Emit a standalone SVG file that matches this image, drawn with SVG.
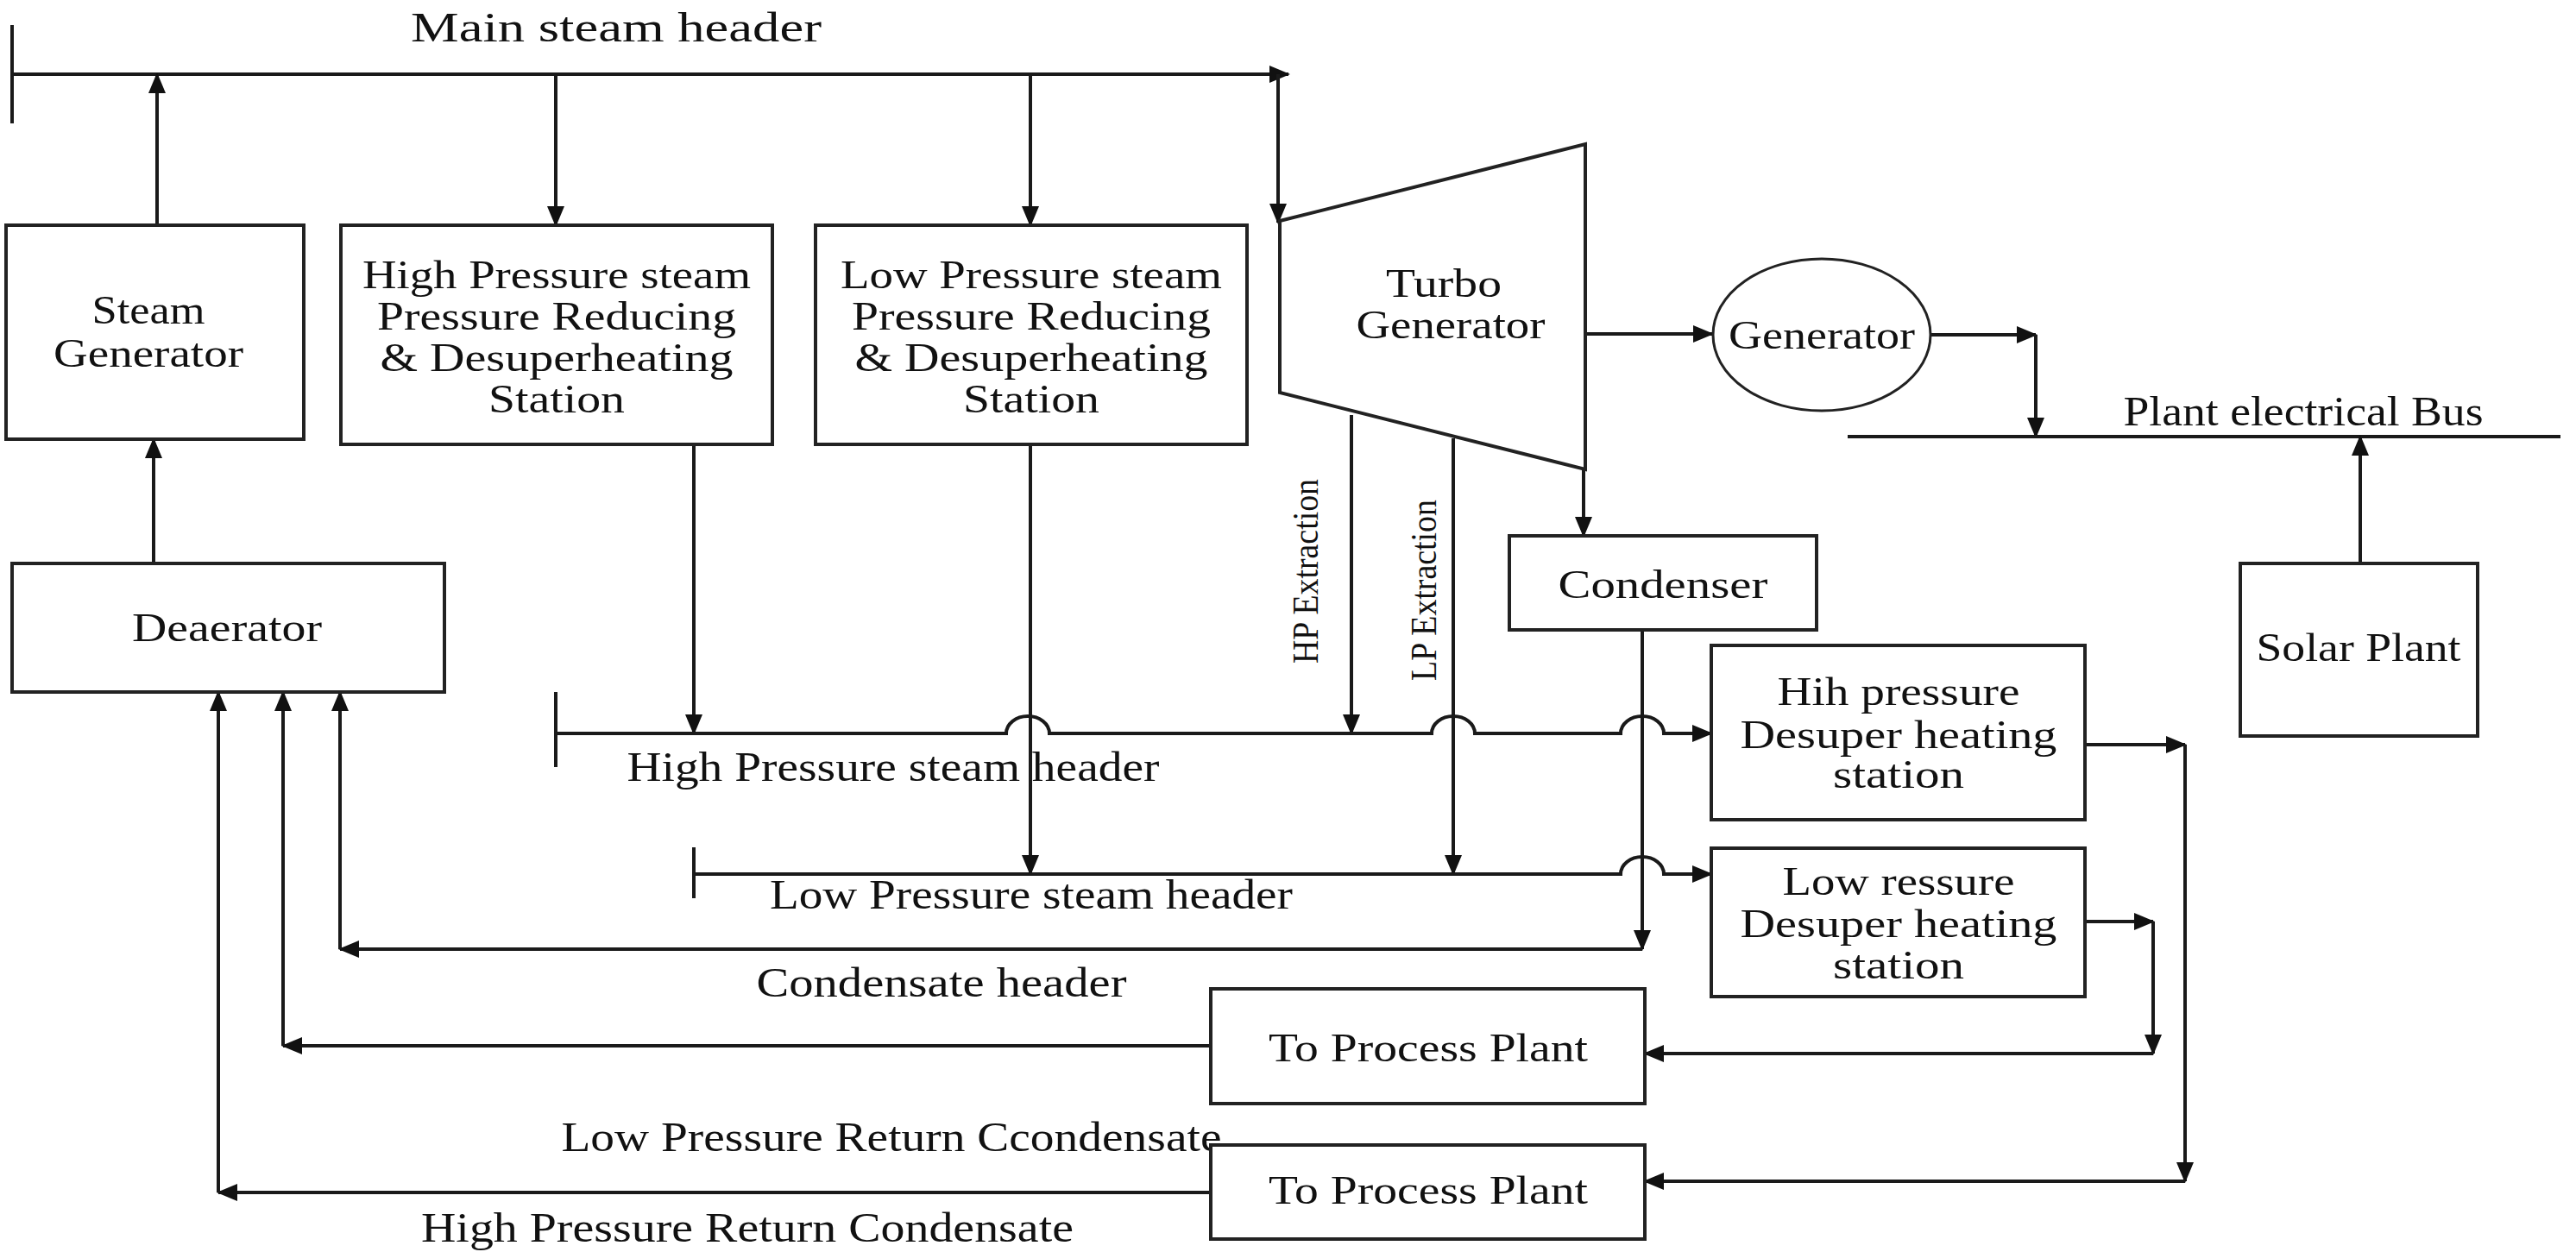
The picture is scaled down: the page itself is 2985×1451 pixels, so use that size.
<svg xmlns="http://www.w3.org/2000/svg" width="2985" height="1451" viewBox="0 0 2985 1451">
<style>
.b{fill:#fff;stroke:#222;stroke-width:4}
.l{fill:none;stroke:#1a1a1a;stroke-width:4}
.la{fill:none;stroke:#1a1a1a;stroke-width:4;marker-end:url(#a)}
text{font-family:"Liberation Serif","Times New Roman",serif;font-size:46px;fill:#111;text-anchor:middle}
.h{font-size:48px}
</style>
<defs>
<marker id="a" markerUnits="userSpaceOnUse" markerWidth="24" markerHeight="20" refX="22" refY="10" orient="auto"><path d="M0,0 L24,10 L0,20 Z" fill="#111"/></marker>
</defs>
<g id="connectors">
<path class="l" d="M14,29 V143"/>
<path class="la" d="M14,86 H1493"/>
<path class="la" d="M1481,86 V258"/>
<path class="la" d="M182,261 V86"/>
<path class="la" d="M644,86 V261"/>
<path class="la" d="M1194,86 V261"/>
<path class="la" d="M178,653 V509"/>
<path class="la" d="M1837,387 H1984"/>
<path class="la" d="M2237,388 H2359"/>
<path class="la" d="M2359,388 V506"/>
<path class="l" d="M2141,506 H2967"/>
<path class="la" d="M2735,653 V506"/>
<path class="la" d="M1835,544 V621"/>
<path class="la" d="M1566,481 V850"/>
<path class="la" d="M1684,508 V1013"/>
<path class="l" d="M644,802 V889"/>
<path class="la" d="M804,515 V850"/>
<path class="la" d="M644,850 H1166 A25 20 0 0 1 1216,850 H1659 A25 20 0 0 1 1709,850 H1878 A25 20 0 0 1 1928,850 H1983"/>
<path class="l" d="M804,982 V1041"/>
<path class="la" d="M1194,515 V1013"/>
<path class="la" d="M804,1013 H1878 A25 20 0 0 1 1928,1013 H1983"/>
<path class="la" d="M1903,730 V1100"/>
<path class="la" d="M1903,1100 H394"/>
<path class="la" d="M394,1100 V802"/>
<path class="la" d="M2416,863 H2532"/>
<path class="la" d="M2532,863 V1369"/>
<path class="la" d="M2532,1369 H1906"/>
<path class="la" d="M2416,1068 H2495"/>
<path class="la" d="M2495,1068 V1221"/>
<path class="la" d="M2495,1221 H1906"/>
<path class="la" d="M1403,1212 H328"/>
<path class="la" d="M328,1212 V802"/>
<path class="la" d="M1403,1382 H253"/>
<path class="la" d="M253,1382 V802"/>
</g>
<g id="labels">
<text class="h" x="714" y="48" textLength="476" lengthAdjust="spacingAndGlyphs">Main steam header</text>
<text class="h" x="2669" y="493" textLength="417" lengthAdjust="spacingAndGlyphs">Plant electrical Bus</text>
<text class="h" x="1035" y="905" textLength="617" lengthAdjust="spacingAndGlyphs">High Pressure steam header</text>
<text class="h" x="1195" y="1053" textLength="606" lengthAdjust="spacingAndGlyphs">Low Pressure steam header</text>
<text class="h" x="1091" y="1155" textLength="429" lengthAdjust="spacingAndGlyphs">Condensate header</text>
<text class="h" x="1033" y="1334" textLength="765" lengthAdjust="spacingAndGlyphs">Low Pressure Return Ccondensate</text>
<text class="h" x="866" y="1439" textLength="756" lengthAdjust="spacingAndGlyphs">High Pressure Return Condensate</text>
<text x="0" y="0" transform="translate(1527,662) rotate(-90)" style="font-size:42px" textLength="214" lengthAdjust="spacingAndGlyphs">HP Extraction</text>
<text x="0" y="0" transform="translate(1664,684) rotate(-90)" style="font-size:42px" textLength="210" lengthAdjust="spacingAndGlyphs">LP Extraction</text>
</g>
<g id="steam-generator"><rect class="b" x="7" y="261" width="345" height="248"/>
<text x="172" y="375" textLength="131" lengthAdjust="spacingAndGlyphs">Steam</text>
<text x="172" y="425" textLength="220" lengthAdjust="spacingAndGlyphs">Generator</text></g>
<g id="hp-prds"><rect class="b" x="395" y="261" width="500" height="254"/>
<text x="645" y="334" textLength="450" lengthAdjust="spacingAndGlyphs">High Pressure steam</text>
<text x="645" y="382" textLength="416" lengthAdjust="spacingAndGlyphs">Pressure Reducing</text>
<text x="645" y="430" textLength="409" lengthAdjust="spacingAndGlyphs">&amp; Desuperheating</text>
<text x="645" y="478" textLength="158" lengthAdjust="spacingAndGlyphs">Station</text></g>
<g id="lp-prds"><rect class="b" x="945" y="261" width="500" height="254"/>
<text x="1195" y="334" textLength="442" lengthAdjust="spacingAndGlyphs">Low Pressure steam</text>
<text x="1195" y="382" textLength="416" lengthAdjust="spacingAndGlyphs">Pressure Reducing</text>
<text x="1195" y="430" textLength="409" lengthAdjust="spacingAndGlyphs">&amp; Desuperheating</text>
<text x="1195" y="478" textLength="158" lengthAdjust="spacingAndGlyphs">Station</text></g>
<g id="deaerator"><rect class="b" x="14" y="653" width="501" height="149"/>
<text x="263" y="743" textLength="220" lengthAdjust="spacingAndGlyphs">Deaerator</text></g>
<g id="turbo-generator"><path class="b" d="M1483,256 L1837,167 L1837,544 L1483,455 Z"/>
<text x="1673" y="344" textLength="134" lengthAdjust="spacingAndGlyphs">Turbo</text>
<text x="1681" y="392" textLength="219" lengthAdjust="spacingAndGlyphs">Generator</text></g>
<g id="generator"><ellipse class="b" cx="2111" cy="388" rx="126" ry="88" style="stroke-width:3"/>
<text x="2111" y="404" textLength="216" lengthAdjust="spacingAndGlyphs">Generator</text></g>
<g id="condenser"><rect class="b" x="1749" y="621" width="356" height="109"/>
<text x="1927" y="693" textLength="243" lengthAdjust="spacingAndGlyphs">Condenser</text></g>
<g id="solar-plant"><rect class="b" x="2596" y="653" width="275" height="200"/>
<text x="2733" y="766" textLength="237" lengthAdjust="spacingAndGlyphs">Solar Plant</text></g>
<g id="hp-desuper"><rect class="b" x="1983" y="748" width="433" height="202"/>
<text x="2200" y="817" textLength="281" lengthAdjust="spacingAndGlyphs">Hih pressure</text>
<text x="2200" y="867" textLength="367" lengthAdjust="spacingAndGlyphs">Desuper heating</text>
<text x="2200" y="913" textLength="152" lengthAdjust="spacingAndGlyphs">station</text></g>
<g id="lp-desuper"><rect class="b" x="1983" y="983" width="433" height="172"/>
<text x="2200" y="1037" textLength="269" lengthAdjust="spacingAndGlyphs">Low ressure</text>
<text x="2200" y="1086" textLength="367" lengthAdjust="spacingAndGlyphs">Desuper heating</text>
<text x="2200" y="1134" textLength="152" lengthAdjust="spacingAndGlyphs">station</text></g>
<g id="process-plant-lp"><rect class="b" x="1403" y="1146" width="503" height="133"/>
<text x="1655" y="1230" textLength="370" lengthAdjust="spacingAndGlyphs">To Process Plant</text></g>
<g id="process-plant-hp"><rect class="b" x="1403" y="1327" width="503" height="109"/>
<text x="1655" y="1395" textLength="370" lengthAdjust="spacingAndGlyphs">To Process Plant</text></g>
</svg>
